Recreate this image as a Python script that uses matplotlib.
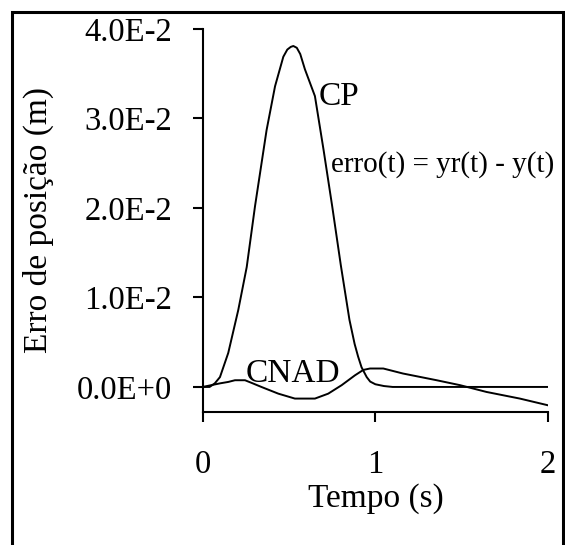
import matplotlib
matplotlib.use('Agg')
import matplotlib.pyplot as plt
import matplotlib.patches as patches

plt.rcParams['font.family'] = ['Liberation Serif', 'DejaVu Serif']

# curvas (tempo em s, erro em m)
t_cp = [0.0, 0.04, 0.07, 0.10, 0.148, 0.206, 0.255, 0.303, 0.37, 0.419, 0.467, 0.49, 0.51,
        0.525, 0.545, 0.565, 0.592, 0.65, 0.70, 0.75, 0.80, 0.85, 0.88, 0.90, 0.92,
        0.95, 0.97, 1.0, 1.05, 1.10, 2.0]
e_cp = [0.0, 0.0, 0.0004, 0.0011, 0.0038, 0.0086, 0.0134, 0.0202, 0.0287, 0.0336, 0.0369, 0.0377, 0.0380,
        0.0381, 0.0379, 0.0372, 0.0355, 0.0325, 0.0265, 0.0202, 0.0136, 0.0075, 0.0048, 0.0034, 0.0022,
        0.0011, 0.0006, 0.0003, 0.0001, 0.0, 0.0]

t_cnad = [0.0, 0.05, 0.10, 0.148, 0.187, 0.245, 0.29, 0.34, 0.438, 0.534, 0.65, 0.727, 0.805,
          0.882, 0.93, 0.969, 1.046, 1.16, 1.355, 1.49, 1.644, 1.837, 2.0]
e_cnad = [0.0, 0.0002, 0.0004, 0.00056, 0.00075, 0.00075, 0.0004, 0.0, -0.00075, -0.0013, -0.0013,
          -0.00075, 0.0002, 0.0013, 0.0019, 0.00206, 0.00206, 0.0015, 0.00075, 0.0002, -0.00056,
          -0.0013, -0.00205]

yticks = [0.0, 0.01, 0.02, 0.03, 0.04]
ytick_labels = ['0.0E+0', '1.0E-2', '2.0E-2', '3.0E-2', '4.0E-2']
xticks = [0, 1, 2]

W, H = 565, 545
fig = plt.figure(figsize=(W / 100, H / 100), dpi=100)
ax = fig.add_axes([202.7 / W, 1 - 412 / H, (548 - 202.7) / W, (412 - 29) / H])

ax.plot(t_cp, e_cp, color='black', lw=1.4)
ax.plot(t_cnad, e_cnad, color='black', lw=1.4)

ax.set_xlim(0, 2)
ax.set_ylim(-0.0028, 0.04)
ax.set_xticks(xticks)
ax.set_xticklabels([str(v) for v in xticks])
ax.set_yticks(yticks)
ax.set_yticklabels(ytick_labels)

for s in ['top', 'right']:
    ax.spines[s].set_visible(False)
for s in ['left', 'bottom']:
    ax.spines[s].set_linewidth(1.5)
ax.tick_params(axis='both', direction='out', length=7, width=1.5, labelsize=23.5)
ax.tick_params(axis='x', pad=20)
ax.tick_params(axis='y', pad=15)

# textos
ax.text(0.789, 0.0324, 'CP', fontsize=24, ha='center', va='center')
ax.text(0.743, 0.0248, 'erro(t) = yr(t) - y(t)', fontsize=21, ha='left', va='center')
ax.text(0.523, 0.00142, 'CNAD', fontsize=24, ha='center', va='center')

fig.text(376 / W, 1 - 499 / H, 'Tempo (s)', fontsize=24, ha='center', va='center')
fig.text(38 / W, 1 - 220 / H, 'Erro de posição (m)', fontsize=24, ha='center', va='center',
         rotation=90)

# moldura externa (sem borda inferior visível)
frame = patches.Rectangle((12 / W, -0.05), (562.5 - 12) / W, (H - 12) / H + 0.05,
                          fill=False, lw=2.2, edgecolor='black', transform=fig.transFigure)
fig.patches.append(frame)

fig.savefig('out.png', dpi=100)
